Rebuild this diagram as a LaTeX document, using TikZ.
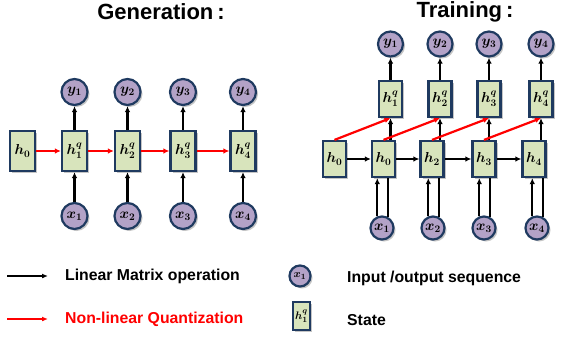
\documentclass[tikz,border=0pt]{standalone}
\usepackage{fontspec}
\setmainfont{Liberation Sans}
\usepackage{amsmath}
\usetikzlibrary{shadows,arrows.meta}
\definecolor{boxfill}{HTML}{D8E4BC}
\definecolor{circfill}{HTML}{B3A2C7}
\definecolor{navy}{HTML}{1F3A60}
\definecolor{qred}{HTML}{FF0000}
\tikzset{
  shad/.style={drop shadow={shadow xshift=2pt,shadow yshift=-2pt,fill=black!45,opacity=0.5}},
  st/.style={draw=navy, line width=2.2pt, fill=boxfill, inner sep=0pt,
    minimum width=25pt, minimum height=40pt, shad,
    font=\fontsize{14}{16}\selectfont\boldmath},
  sst/.style={st, minimum width=23pt, minimum height=36pt},
  cir/.style={circle, draw=navy, line width=2.2pt, fill=circfill, inner sep=0pt,
    minimum size=26pt, shad, font=\fontsize{14}{16}\selectfont\boldmath},
  scir/.style={cir, minimum size=23pt},
  arr/.style={-{Latex[length=6pt,width=5.5pt]}, line width=2.2pt},
  ln/.style={line width=2.2pt},
  ttl/.style={font=\fontsize{22}{26}\selectfont\bfseries},
  leg/.style={font=\fontsize{15.8}{18}\selectfont\bfseries, anchor=west, inner sep=0pt}
}
\begin{document}
\begin{tikzpicture}[x=1pt,y=-1pt]
\useasboundingbox (0,0) rectangle (573,338);
% titles
\node[ttl] (t1) at (161,12) {Generation\hspace{4pt}:};
\node[ttl] (t2) at (465,12) {Training\hspace{4pt}:};
% ---- Generation panel
\node[st] (g0) at (22.5,151) {$h_0$};
\foreach \i/\x in {1/74.5,2/127.5,3/183,4/243} {
  \node[st] (gq\i) at (\x,151) {$h^q_\i$};
  \node[cir] (gy\i) at (\x,92) {$y_\i$};
  \node[cir] (gx\i) at (\x,216) {$x_\i$};
  \draw[arr] (gx\i) -- (gq\i);
  \draw[arr] (gq\i) -- (gy\i);
}
\draw[arr,qred] (g0) -- (gq1);
\draw[arr,qred] (gq1) -- (gq2);
\draw[arr,qred] (gq2) -- (gq3);
\draw[arr,qred] (gq3) -- (gq4);
% ---- Training panel
\node[sst] (th0) at (334.5,159) {$h_0$};
\node[sst] (th1) at (383.5,159) {$h_0$};
\node[sst] (th2) at (432,159) {$h_2$};
\node[sst] (th3) at (484,159) {$h_3$};
\node[sst] (th4) at (534,159) {$h_4$};
\foreach \i/\x/\xx in {1/390.5/382,2/440/433,3/489/484,4/541/537} {
  \node[sst] (tq\i) at (\x,99) {$h^q_\i$};
  \node[scir, minimum size=25pt] (ty\i) at (\x,44) {$y_\i$};
  \node[scir] (tx\i) at (\xx,228) {$x_\i$};
  \draw[arr] (tq\i.south |- th\i.north) -- (tq\i.south);
  \draw[arr] (tq\i) -- (ty\i);
  \draw[arr] (tx\i.112) -- (tx\i.112 |- th\i.south);
  \draw[ln] (tx\i.63) -- (tx\i.63 |- th\i.south);
}
\foreach \j/\i in {0/1,1/2,2/3,3/4} {
  \draw[arr] (th\j) -- (th\i);
  \draw[arr,qred] (th\j.north) -- (tq\i.south);
}
% ---- legend
\coordinate (la1) at (7,276);
\coordinate (lb1) at (48,276);
\draw[-{Latex[length=6pt,width=5pt]}, line width=1.6pt] (la1) -- (lb1);
\node[leg] (lt1) at (65,276) {Linear Matrix operation};
\coordinate (la2) at (7,319);
\coordinate (lb2) at (48,319);
\draw[-{Latex[length=6pt,width=5pt]}, line width=1.6pt, qred] (la2) -- (lb2);
\node[leg, text=qred] (lt2) at (65,319) {Non-linear Quantization};
\node[cir, minimum size=21pt, font=\fontsize{11}{12}\selectfont\boldmath] (lc) at (300,276) {$x_1$};
\node[leg] (lt3) at (347,278) {Input /output sequence};
\node[st, minimum width=17pt, minimum height=28pt, font=\fontsize{11}{12}\selectfont\boldmath] (ls) at (301.5,316) {$h^q_1$};
\node[leg] (lt4) at (347,320) {State};
\end{tikzpicture}
\end{document}
